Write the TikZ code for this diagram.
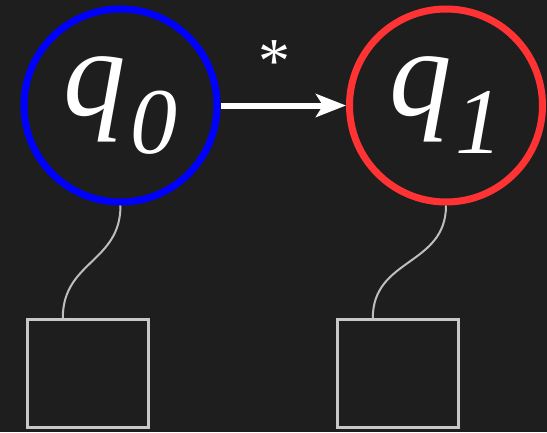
\documentclass[tikz,border=0pt]{standalone}
\usepackage{fontspec}
\setmainfont{Liberation Serif}
\usetikzlibrary{arrows.meta}
\definecolor{bgdark}{HTML}{1E1E1E}
\definecolor{stateblue}{HTML}{0000FF}
\definecolor{statered}{HTML}{FF3333}
\definecolor{boxgray}{HTML}{C8C8C8}
\definecolor{wiregray}{HTML}{BEBEBE}
\newcommand{\statename}[1]{\fontsize{125}{125}\selectfont\itshape q\kern4pt\raisebox{-38pt}{\fontsize{94}{94}\selectfont #1}}
\tikzset{
  state/.style={circle, draw, line width=7pt, minimum size=193pt, inner sep=0pt, text=white, align=center},
  sblue/.style={state, draw=stateblue},
  sred/.style={state, draw=statered},
  outbox/.style={rectangle, draw=boxgray, line width=3pt, minimum width=121.5pt, minimum height=107.7pt, inner sep=0pt},
  edgearrow/.style={-{Stealth[length=30pt, width=23pt, inset=7pt]}, line width=6pt, white},
  wire/.style={draw=wiregray, line width=2pt},
  starlabel/.style={text=white, font=\fontsize{64}{64}\selectfont, inner sep=0pt}
}
\begin{document}
\begin{tikzpicture}[x=1pt,y=-1pt]
  \fill[bgdark] (0,0) rectangle (547,432);
  \useasboundingbox (0,0) rectangle (547,432);

  \node[sblue] (q0) at (120.5,105.5) {\statename{0}};
  \node[sred] (q1) at (446,105.5) {\statename{1}};

  \node[outbox] (box0) at (87.8,373.4) {};
  \node[outbox] (box1) at (397.8,373.4) {};

  \draw[edgearrow] (q0) -- (q1);
  \node[starlabel, anchor=center] (star) at (274,62) {*};

  \draw[wire] (q0.south) to[out=-90, in=90, looseness=1.15] ([xshift=-25pt]box0.north);
  \draw[wire] (q1.south) to[out=-90, in=90, looseness=1.15] ([xshift=-25pt]box1.north);
\end{tikzpicture}
\end{document}
